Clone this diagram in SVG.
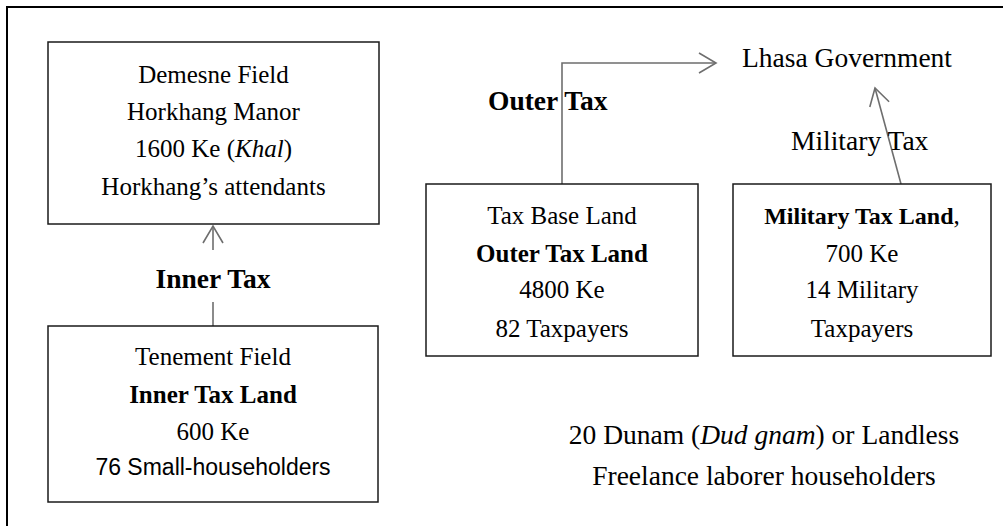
<svg xmlns="http://www.w3.org/2000/svg" width="1003" height="526" viewBox="0 0 1003 526">
<style>
.frame{fill:none;stroke:#000;stroke-width:2}
.box{fill:#fff;stroke:#1a1a1a;stroke-width:1.5}
.con{fill:none;stroke:#6e6e6e;stroke-width:1.6}
.t{font-family:"Liberation Serif","Times New Roman",serif;font-size:25px;fill:#000;text-anchor:middle}
.b{font-weight:bold}
.lbl{font-family:"Liberation Serif","Times New Roman",serif;font-size:27.5px;fill:#000}
.s{font-family:"Liberation Sans",Arial,sans-serif;font-size:23px;fill:#000;text-anchor:middle}
</style>
<defs>
<marker id="open" viewBox="-20 -11 22 22" markerWidth="22" markerHeight="22" refX="0" refY="0" orient="auto" markerUnits="userSpaceOnUse">
<path d="M-17,-10 L0,0 L-17,10" fill="none" stroke="#6e6e6e" stroke-width="1.6"/>
</marker>
</defs>
<rect width="1003" height="526" fill="#fff"/>
<path class="frame" d="M7,526 V7 H1003"/>
<g id="connectors">
<line class="con" x1="213" y1="250" x2="213" y2="226" marker-end="url(#open)"/>
<line class="con" x1="213" y1="302" x2="213" y2="326"/>
<polyline class="con" points="562,184 562,63 716,63" marker-end="url(#open)"/>
<line class="con" x1="901" y1="184" x2="875" y2="88" marker-end="url(#open)"/>
</g>
<g id="demesne">
<rect class="box" x="48" y="42" width="331" height="182"/>
<text class="t" x="213.5" y="83">Demesne Field</text>
<text class="t" x="213.5" y="120">Horkhang Manor</text>
<text class="t" x="213.5" y="157">1600 Ke (<tspan font-style="italic">Khal</tspan>)</text>
<text class="t" x="213.5" y="195">Horkhang’s attendants</text>
</g>
<g id="inner-tax-label">
<text class="lbl b" x="213" y="288" text-anchor="middle">Inner Tax</text>
</g>
<g id="tenement">
<rect class="box" x="48" y="326" width="330" height="176"/>
<text class="t" x="213" y="365">Tenement Field</text>
<text class="t b" x="213" y="403" font-size="24">Inner Tax Land</text>
<text class="t" x="213" y="440">600 Ke</text>
<text class="s" x="213" y="475">76 Small-householders</text>
</g>
<g id="lhasa">
<text class="lbl" x="742" y="67" font-size="28">Lhasa Government</text>
</g>
<g id="outer-tax-label">
<text class="lbl b" x="488" y="110">Outer Tax</text>
</g>
<g id="military-tax-label">
<text class="lbl" x="791" y="150">Military Tax</text>
</g>
<g id="taxbase">
<rect class="box" x="426" y="184" width="272" height="172"/>
<text class="t" x="562" y="224">Tax Base Land</text>
<text class="t b" x="562" y="262" font-size="24">Outer Tax Land</text>
<text class="t" x="562" y="298">4800 Ke</text>
<text class="t" x="562" y="337">82 Taxpayers</text>
</g>
<g id="military">
<rect class="box" x="733" y="184" width="258" height="172"/>
<text class="t" x="862" y="224"><tspan font-weight="bold" font-size="24">Military Tax Land</tspan>,</text>
<text class="t" x="862" y="262">700 Ke</text>
<text class="t" x="862" y="298">14 Military</text>
<text class="t" x="862" y="337">Taxpayers</text>
</g>
<g id="landless">
<text class="lbl" x="764" y="444" text-anchor="middle" font-size="28">20 Dunam (<tspan font-style="italic">Dud gnam</tspan>) or Landless</text>
<text class="lbl" x="764" y="485" text-anchor="middle" font-size="28">Freelance laborer householders</text>
</g>
</svg>
